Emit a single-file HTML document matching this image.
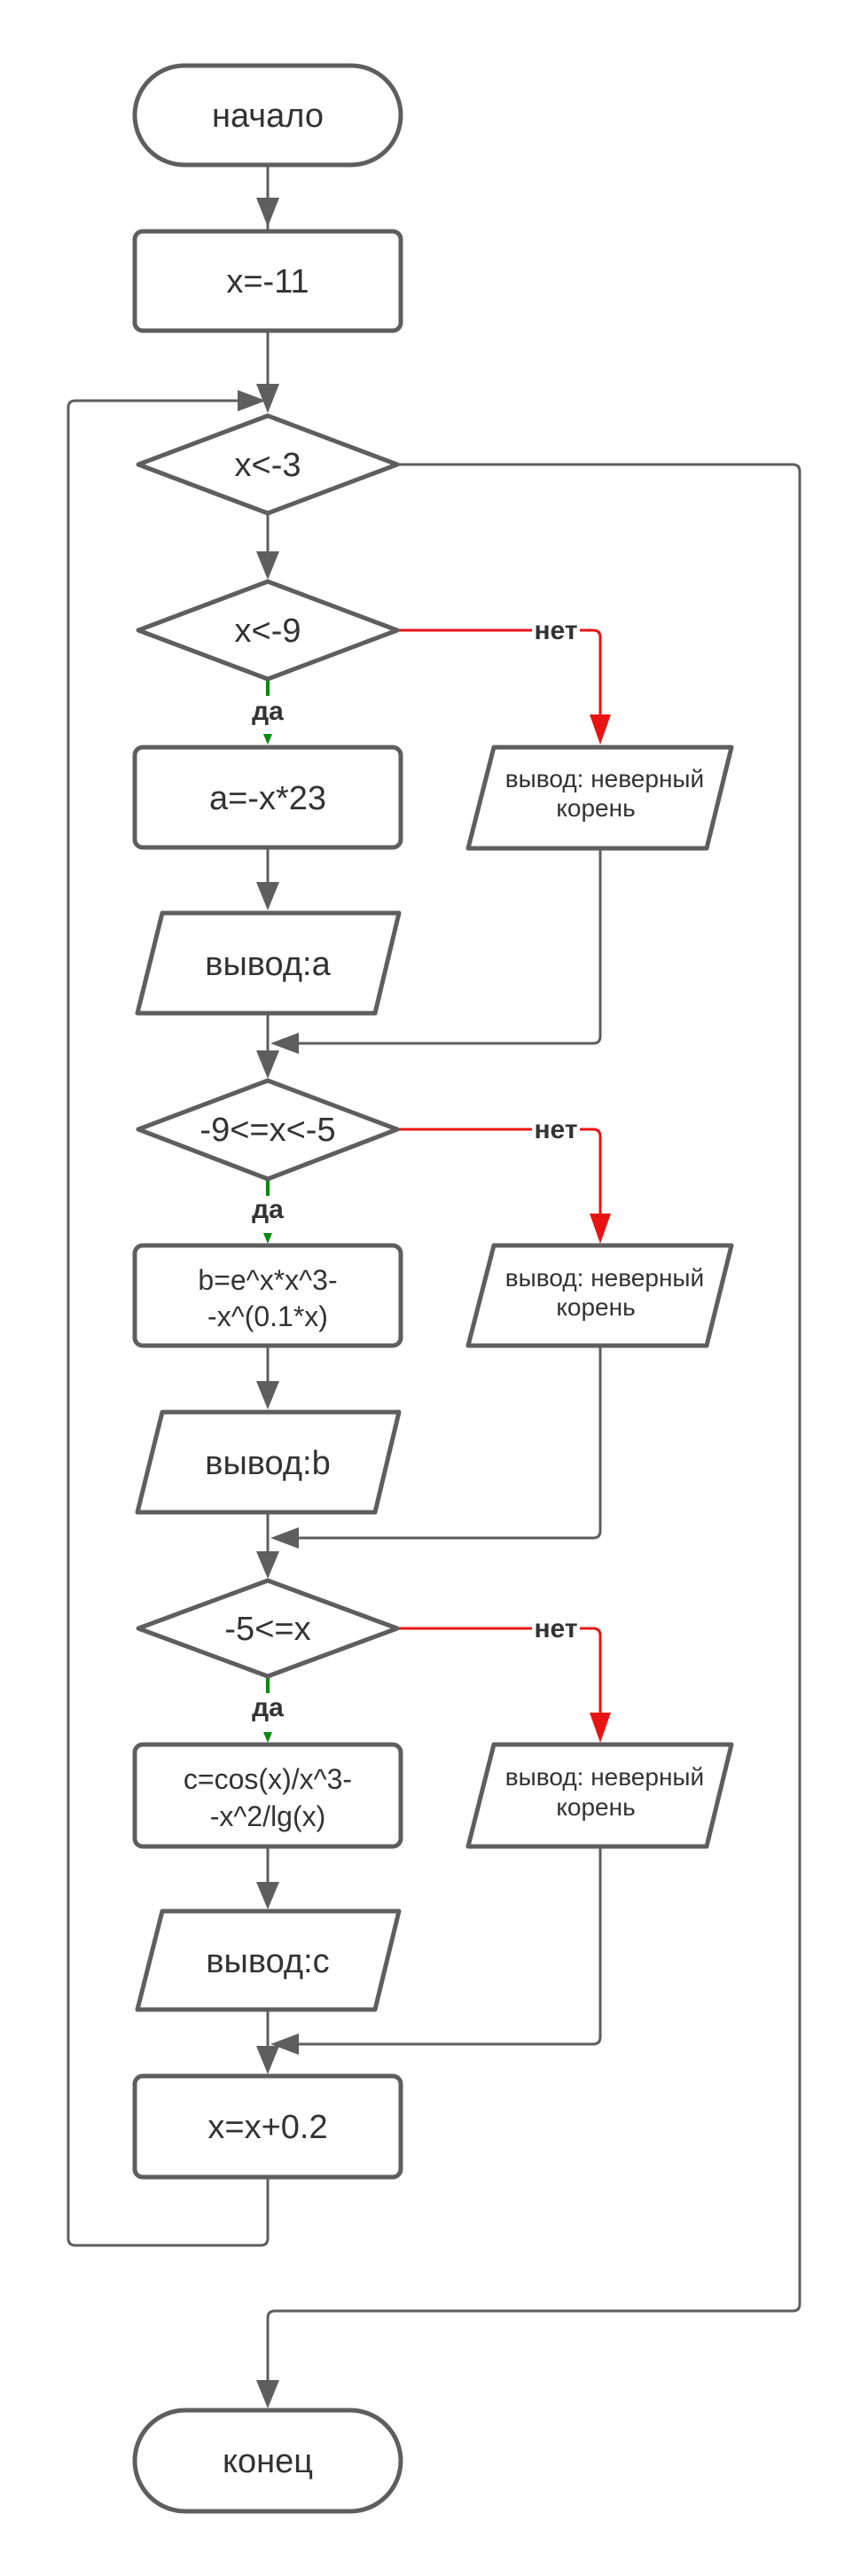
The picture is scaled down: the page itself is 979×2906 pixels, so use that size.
<!DOCTYPE html>
<html><head><meta charset="utf-8"><style>
html,body{margin:0;padding:0;background:#fff}
svg{display:block}
text{font-family:"Liberation Sans","DejaVu Sans",sans-serif;fill:#333}
</style></head><body>
<svg width="979" height="2906" viewBox="0 0 979 2906" xmlns="http://www.w3.org/2000/svg">
<g fill="none" stroke="#5e5e5e" stroke-width="3">
<path d="M302 187V435"/>
<path d="M302 579V624"/>
<path d="M302 957V995"/>
<path d="M302 1143V1187"/>
<path d="M302 1518V1560"/>
<path d="M302 1706V1752"/>
<path d="M302 2083V2125"/>
<path d="M302 2267V2310"/>
<path d="M302 2456V2525Q302 2533 294 2533H85Q77 2533 77 2525V460Q77 452 85 452H270"/>
<path d="M448 524H894Q902 524 902 532V2599Q902 2607 894 2607H310Q302 2607 302 2615V2687"/>
<path d="M677 957V1169Q677 1177 669 1177H335"/>
<path d="M677 1518V1727Q677 1735 669 1735H335"/>
<path d="M677 2083V2298Q677 2306 669 2306H335"/>
</g>
<g fill="#5e5e5e">
<polygon points="289,223 315,223 302,256"/>
<polygon points="289,433 315,433 302,466"/>
<polygon points="268,440 268,464 300,452"/>
<polygon points="289,622 315,622 302,654"/>
<polygon points="289,995 315,995 302,1027"/>
<polygon points="289,1185 315,1185 302,1217"/>
<polygon points="337,1165 337,1189 305,1177"/>
<polygon points="289,1558 315,1558 302,1590"/>
<polygon points="289,1750 315,1750 302,1781"/>
<polygon points="337,1723 337,1747 305,1735"/>
<polygon points="289,2123 315,2123 302,2154"/>
<polygon points="289,2308 315,2308 302,2340"/>
<polygon points="337,2294 337,2318 305,2306"/>
<polygon points="289,2685 315,2685 302,2717"/>
</g>
<g fill="none" stroke="#e81313" stroke-width="3">
<path d="M448 711H669Q677 711 677 719V808"/>
<path d="M448 1274H669Q677 1274 677 1282V1370"/>
<path d="M448 1837H669Q677 1837 677 1845V1935"/>
</g>
<g fill="#e81313">
<polygon points="665,806 689,806 677,840"/>
<polygon points="665,1369 689,1369 677,1403"/>
<polygon points="665,1932 689,1932 677,1966"/>
</g>
<g fill="#fff">
<rect x="600" y="695" width="54" height="32"/>
<rect x="600" y="1258" width="54" height="32"/>
<rect x="600" y="1821" width="54" height="32"/>
</g>
<g font-weight="bold" font-size="30" text-anchor="middle">
<text x="627" y="721">нет</text>
<text x="627" y="1284">нет</text>
<text x="627" y="1847">нет</text>
</g>
<g stroke="#008a0e" stroke-width="4">
<path d="M302 766V785"/><path d="M302 1330V1349"/><path d="M302 1891V1910"/>
</g>
<g fill="#008a0e">
<polygon points="297,828 307,828 302,840"/>
<polygon points="297,1391 307,1391 302,1403"/>
<polygon points="297,1954 307,1954 302,1966"/>
</g>
<g font-weight="bold" font-size="30" text-anchor="middle">
<text x="302" y="812">да</text>
<text x="302" y="1374">да</text>
<text x="302" y="1936">да</text>
</g>
<g fill="#fff" stroke="#5e5e5e" stroke-width="5" stroke-linejoin="round">
<rect x="152" y="74" width="300" height="112" rx="56"/>
<rect x="152" y="261" width="300" height="112" rx="9"/>
<path d="M156 524L302 469L448 524L302 579Z"/>
<path d="M156 711L302 656L448 711L302 766Z"/>
<rect x="152" y="843" width="300" height="113" rx="9"/>
<path d="M557 843H825L797 957H528Z"/>
<path d="M183 1030H450L423 1143H155Z"/>
<path d="M156 1274L302 1219L448 1274L302 1330Z"/>
<rect x="152" y="1405" width="300" height="113" rx="9"/>
<path d="M557 1405H825L797 1518H528Z"/>
<path d="M183 1593H450L423 1706H155Z"/>
<path d="M156 1837L302 1783L448 1837L302 1891Z"/>
<rect x="152" y="1968" width="300" height="115" rx="9"/>
<path d="M557 1968H825L797 2083H528Z"/>
<path d="M183 2156H450L423 2267H155Z"/>
<rect x="152" y="2342" width="300" height="114" rx="9"/>
<rect x="152" y="2719" width="300" height="114" rx="57"/>
</g>
<g font-size="38" text-anchor="middle">
<text x="302" y="143">начало</text>
<text x="302" y="330">x=-11</text>
<text x="302" y="537">x&lt;-3</text>
<text x="302" y="724">x&lt;-9</text>
<text x="302" y="913">a=-x*23</text>
<text x="302" y="1100">вывод:a</text>
<text x="302" y="1287">-9&lt;=x&lt;-5</text>
<text x="302" y="1663">вывод:b</text>
<text x="302" y="1850">-5&lt;=x</text>
<text x="302" y="2225">вывод:c</text>
<text x="302" y="2412">x=x+0.2</text>
<text x="302" y="2789">конец</text>
</g>
<g font-size="32" text-anchor="middle">
<text x="302" y="1455">b=e^x*x^3-</text>
<text x="302" y="1496">-x^(0.1*x)</text>
<text x="302" y="2018">c=cos(x)/x^3-</text>
<text x="302" y="2060">-x^2/lg(x)</text>
</g>
<g font-size="28" text-anchor="middle">
<text x="682" y="888">вывод: неверный</text>
<text x="672" y="921">корень</text>
<text x="682" y="1451">вывод: неверный</text>
<text x="672" y="1484">корень</text>
<text x="682" y="2014">вывод: неверный</text>
<text x="672" y="2048">корень</text>
</g>
</svg>
</body></html>
